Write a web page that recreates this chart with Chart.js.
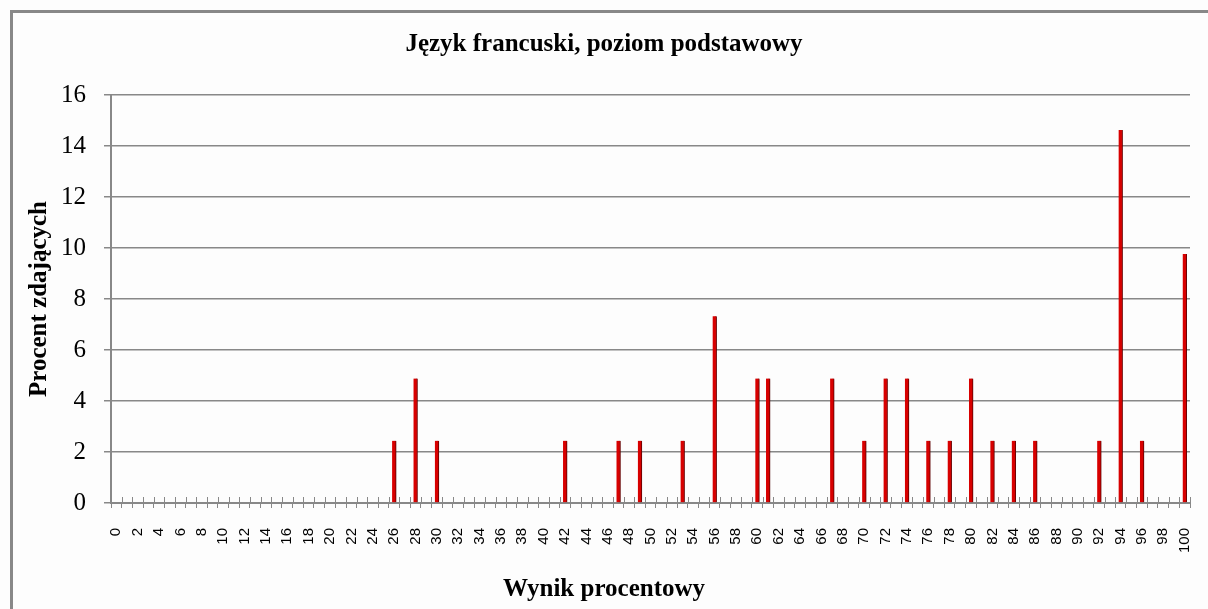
<!DOCTYPE html>
<html>
<head>
<meta charset="utf-8">
<script src="https://cdn.jsdelivr.net/npm/chart.js@4"></script>
<style>
    html, body { margin: 0; padding: 0; background: #fdfdfd; overflow: hidden; }
    #frame { position: absolute; left: 10px; top: 10px; width: 1300px; height: 700px; border: 3px solid #888; }
    #chart { position: absolute; left: 0; top: 0; }
</style>
</head>
<body>
<div id="frame"></div>
<canvas id="chart" width="1208" height="609"></canvas>
<script>
// Data
const categories = ['0','1','2','3','4','5','6','7','8','9','10','11','12','13','14','15','16','17','18','19',
    '20','21','22','23','24','25','26','27','28','29','30','31','32','33','34','35','36','37','38','39',
    '40','41','42','43','44','45','46','47','48','49','50','51','52','53','54','55','56','57','58','59',
    '60','61','62','63','64','65','66','67','68','69','70','71','72','73','74','75','76','77','78','79',
    '80','81','82','83','84','85','86','87','88','89','90','91','92','93','94','95','96','97','98','99','100'];
const scores   = [26, 28, 30, 42, 47, 49, 53, 56, 60, 61, 67, 70, 72, 74, 76, 78, 80, 82, 84, 86, 92, 94, 96, 100];
const percents = [2.44, 4.88, 2.44, 2.44, 2.44, 2.44, 2.44, 7.32, 4.88, 4.88, 4.88, 2.44, 4.88, 4.88,
    2.44, 2.44, 4.88, 2.44, 2.44, 2.44, 2.44, 14.63, 2.44, 9.76];
const yTicks = [0, 2, 4, 6, 8, 10, 12, 14, 16];

const chartTitle = 'Język francuski, poziom podstawowy';
const xTitle = 'Wynik procentowy';
const yTitle = 'Procent zdających';

// one value per category, zero where nobody scored
const values = categories.map(c => {
    const k = scores.indexOf(Number(c));
    return k >= 0 ? percents[k] : 0;
});

const serif = "'Liberation Serif', 'Times New Roman', serif";
const axisGray = '#888888';
const padLeft = 18;

// bar shadow, like the Excel 3D-ish look
const barShadow = {
    id: 'barShadow',
    beforeDatasetDraw(chart) {
        const ctx = chart.ctx;
        ctx.save();
        ctx.shadowColor = 'rgba(0,0,0,0.28)';
        ctx.shadowBlur = 3;
        ctx.shadowOffsetX = 2;
    },
    afterDatasetDraw(chart) {
        chart.ctx.restore();
    }
};

// tick marks on the x axis cross the axis line (inner half)
const crossTicks = {
    id: 'crossTicks',
    beforeDatasetsDraw(chart) {
        const x = chart.scales.x;
        const ctx = chart.ctx;
        const step = x.getPixelForValue(1) - x.getPixelForValue(0);
        ctx.save();
        ctx.strokeStyle = axisGray;
        ctx.lineWidth = 1;
        ctx.beginPath();
        for (let i = 0; i <= categories.length; i++) {
            const px = Math.round(x.getPixelForValue(i) - step / 2) + 0.5;
            ctx.moveTo(px, x.top - 6);
            ctx.lineTo(px, x.top);
        }
        ctx.stroke();
        ctx.restore();
    }
};

new Chart(document.getElementById('chart'), {
    type: 'bar',
    data: {
        labels: categories,
        datasets: [{
            data: values,
            backgroundColor: '#d80000',
            borderColor: '#8a0000',
            borderWidth: { top: 0, left: 0, right: 1, bottom: 0 },
            borderSkipped: false,
            barThickness: 4
        }]
    },
    options: {
        responsive: false,
        devicePixelRatio: 1,
        animation: false,
        layout: { padding: { left: padLeft, right: 18, top: 0, bottom: 0 } },
        plugins: {
            legend: { display: false },
            tooltip: { enabled: false },
            title: {
                display: true,
                text: chartTitle,
                color: '#000',
                font: { family: serif, size: 25, weight: 'bold' },
                padding: { top: 30, bottom: 35 }
            },
            subtitle: {
                display: true,
                position: 'bottom',
                text: xTitle,
                color: '#000',
                font: { family: serif, size: 25, weight: 'bold' },
                padding: { top: 0, bottom: 4 }
            }
        },
        scales: {
            x: {
                offset: true,
                grid: {
                    offset: true,
                    drawOnChartArea: false,
                    drawTicks: true,
                    tickLength: 5,
                    color: axisGray
                },
                border: { color: axisGray, width: 2 },
                ticks: {
                    autoSkip: false,
                    minRotation: 90,
                    maxRotation: 90,
                    padding: 20,
                    color: '#000',
                    font: { family: "'Liberation Sans', Arial, sans-serif", size: 15 },
                    callback: (v, i) => (i % 2 === 0 ? categories[i] : '')
                },
                afterFit(scale) {
                    scale.height = 72;
                    scale.paddingLeft = 0;
                    scale.paddingRight = 0;
                }
            },
            y: {
                min: 0,
                max: 16,
                afterBuildTicks(scale) { scale.ticks = yTicks.map(v => ({ value: v })); },
                grid: { color: axisGray, lineWidth: 1.5, tickLength: 7 },
                border: { color: axisGray, width: 2 },
                ticks: {
                    padding: 18,
                    color: '#000',
                    font: { family: serif, size: 25 }
                },
                title: {
                    display: true,
                    text: yTitle,
                    color: '#000',
                    font: { family: serif, size: 25, weight: 'bold' },
                    padding: { top: 25 - padLeft, bottom: 0 }
                },
                afterFit(scale) { scale.width = 111 - padLeft; }
            }
        }
    },
    plugins: [barShadow, crossTicks]
});
</script>
</body>
</html>
